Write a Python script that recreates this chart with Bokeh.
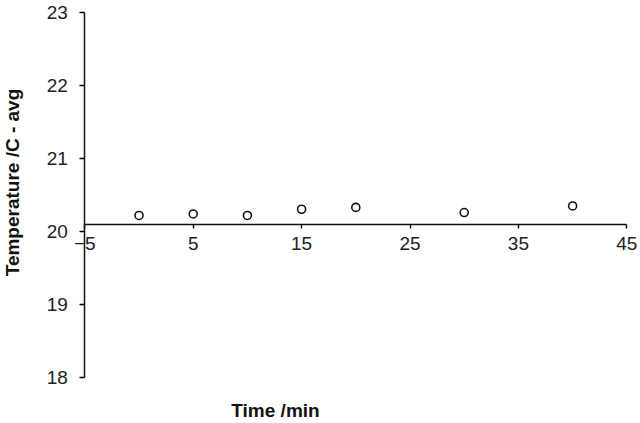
import math
from bokeh.plotting import figure
from bokeh.models import FixedTicker, Range1d, Label
from bokeh.embed import file_html
from bokeh.resources import INLINE

time_min = [0, 5, 10, 15, 20, 30, 40]
temp_avg = [20.22, 20.24, 20.22, 20.305, 20.33, 20.26, 20.35]
x_ticks = [-5, 5, 15, 25, 35, 45]
y_ticks = [18, 19, 20, 21, 22, 23]
x_cross = 20.1
y_cross = -5

FONT = "Liberation Sans"
W, H = 640, 423
# pixel layout of the axes box
px_left, px_right, px_top, px_bottom = 84.3, 626.3, 12.0, 377.0
sx = (px_right - px_left) / (x_ticks[-1] - x_ticks[0])
sy = (px_bottom - px_top) / (y_ticks[-1] - y_ticks[0])
x0 = x_ticks[0] - px_left / sx
x1 = x_ticks[-1] + (W - px_right) / sx
y1 = y_ticks[-1] + px_top / sy
y0 = y_ticks[0] - (H - px_bottom) / sy

p = figure(width=W, height=H, output_backend="svg", toolbar_location=None,
           x_range=Range1d(x0, x1), y_range=Range1d(y0, y1),
           min_border_left=0, min_border_right=0, min_border_top=0, min_border_bottom=0)
p.outline_line_color = None
p.grid.grid_line_color = None
p.background_fill_color = "white"
p.border_fill_color = "white"

p.scatter(time_min, temp_avg, size=8, marker="circle", fill_color="white",
          line_color="#111111", line_width=1.6)

xa = p.xaxis[0]
xa.fixed_location = x_cross
xa.bounds = (x_ticks[0], x_ticks[-1])
xa.ticker = FixedTicker(ticks=x_ticks)
xa.minor_tick_line_color = None
xa.major_tick_in = 0
xa.major_tick_out = 4
xa.major_label_standoff = 9
xa.major_label_text_font = FONT
xa.major_label_text_font_size = "19px"
xa.major_label_text_color = "#222222"
xa.axis_line_color = "#111111"
xa.axis_line_width = 1.5
xa.major_tick_line_width = 1.5

ya = p.yaxis[0]
ya.fixed_location = y_cross
ya.bounds = (y_ticks[0], y_ticks[-1])
ya.ticker = FixedTicker(ticks=y_ticks)
ya.minor_tick_line_color = None
ya.major_tick_in = 0
ya.major_tick_out = 5
ya.major_label_standoff = 12
ya.major_label_text_font = FONT
ya.major_label_text_font_size = "19px"
ya.major_label_text_color = "#222222"
ya.axis_line_color = "#111111"
ya.axis_line_width = 1.5
ya.major_tick_line_width = 1.5

ylab = Label(x=x_ticks[0] - (px_left - 12) / sx, y=y_ticks[-1] - (182 - px_top) / sy,
             text="Temperature /C - avg", angle=math.pi / 2,
             text_align="center", text_baseline="middle", text_font=FONT,
             text_font_style="bold", text_font_size="19px", text_color="#111111")
xlab = Label(x=x_ticks[0] + (275 - px_left) / sx, y=y_ticks[0] - (410 - px_bottom) / sy,
             text="Time /min", text_align="center", text_baseline="middle",
             text_font=FONT, text_font_style="bold", text_font_size="19px",
             text_color="#111111")
p.add_layout(ylab)
p.add_layout(xlab)

open("out.html", "w").write(file_html(p, INLINE))
